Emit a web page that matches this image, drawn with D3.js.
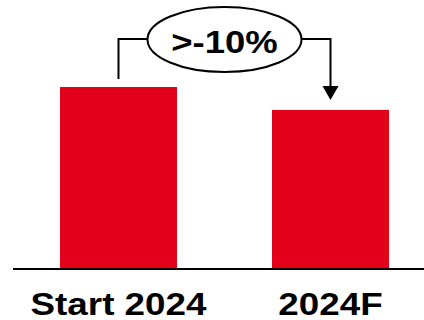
<!DOCTYPE html>
<html>
<head>
<meta charset="utf-8">
<script src="https://cdn.jsdelivr.net/npm/d3@7"></script>
<style>
  html, body { margin: 0; padding: 0; background: #fff; }
  svg { display: block; }
  text { font-family: "Liberation Sans", Arial, sans-serif; font-weight: bold; fill: #000; }
</style>
</head>
<body>
<svg id="chart" width="424" height="320"></svg>
<script>
// Bar data
const categories = ["Start 2024", "2024F"];
const values = [100, 87.4];
const changeLabel = ">-10%";

const W = 424, H = 320;
const baseY = 269;
const svg = d3.select("#chart");

const x = d3.scaleBand()
  .domain(categories)
  .range([12.5, 436.5])
  .paddingInner(0.448)
  .paddingOuter(0.224);

const y = d3.scaleLinear()
  .domain([0, 100])
  .range([baseY, 87]);

const red = "#E2001A";

// Bars
svg.selectAll("rect.bar")
  .data(categories)
  .join("rect")
  .attr("class", "bar")
  .attr("x", d => x(d))
  .attr("width", x.bandwidth())
  .attr("y", (d, i) => y(values[i]))
  .attr("height", (d, i) => baseY - y(values[i]))
  .attr("fill", red);

// Baseline
svg.append("line")
  .attr("x1", 13).attr("x2", W)
  .attr("y1", baseY).attr("y2", baseY)
  .attr("stroke", "#000").attr("stroke-width", 2);

// Category labels (wide bold face)
const cx = d => x(d) + x.bandwidth() / 2;
svg.selectAll("text.cat")
  .data(categories)
  .join("text")
  .attr("class", "cat")
  .attr("text-anchor", "middle")
  .attr("font-size", 32)
  .attr("transform", d => `translate(${cx(d)},315) scale(1.15,1)`)
  .text(d => d);

// Change bracket with arrow
const x0 = cx(categories[0]), x1 = cx(categories[1]);
const bracketY = 39;
const ell = { cx: (x0 + x1) / 2, rx: 77, ry: 32.5 };
const startY = y(values[0]) - 8;
const tipY = y(values[1]) - 10;
const headH = 14, headW = 16;

svg.append("path")
  .attr("d", `M${x0},${startY}V${bracketY}H${ell.cx - ell.rx}`)
  .attr("fill", "none").attr("stroke", "#000").attr("stroke-width", 2);

svg.append("path")
  .attr("d", `M${ell.cx + ell.rx},${bracketY}H${x1}V${tipY - headH + 1}`)
  .attr("fill", "none").attr("stroke", "#000").attr("stroke-width", 2);

svg.append("path")
  .attr("d", `M${x1 - headW / 2},${tipY - headH}L${x1 + headW / 2},${tipY - headH}L${x1},${tipY}Z`)
  .attr("fill", "#000");

svg.append("ellipse")
  .attr("cx", ell.cx).attr("cy", bracketY + 0.5)
  .attr("rx", ell.rx).attr("ry", ell.ry)
  .attr("fill", "#fff").attr("stroke", "#000").attr("stroke-width", 2);

svg.append("text")
  .attr("text-anchor", "middle")
  .attr("font-size", 32)
  .attr("transform", `translate(${ell.cx},53) scale(1.14,1)`)
  .text(changeLabel);
</script>
</body>
</html>
